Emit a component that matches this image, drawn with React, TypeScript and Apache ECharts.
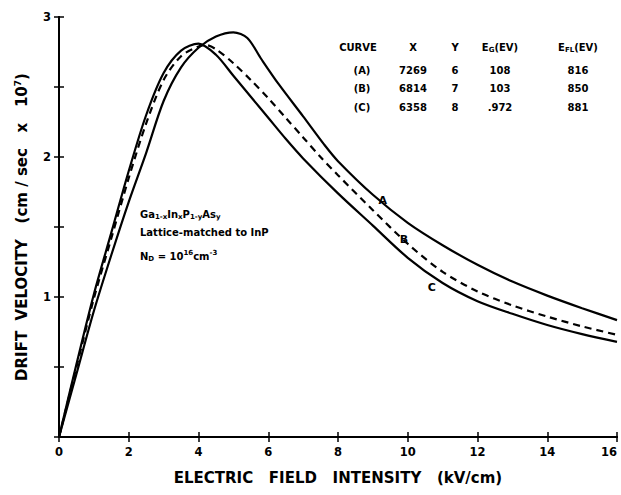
import React, { useEffect, useRef } from "react";
import * as echarts from "echarts";

// ---- data ----
const aField = [0, 0.5, 1, 1.5, 2, 2.5, 3, 3.5, 4, 4.5, 5, 5.4, 5.8, 6.3, 7, 7.6, 8, 9, 10, 11, 12, 13, 14, 15, 16];
const aVel = [0, 0.45, 0.9, 1.3, 1.68, 2.03, 2.4, 2.64, 2.78, 2.86, 2.89, 2.85, 2.7, 2.52, 2.29, 2.09, 1.97, 1.73, 1.53, 1.37, 1.23, 1.11, 1.01, 0.92, 0.835];

const bField = [0, 0.5, 1, 1.5, 2, 2.5, 3, 3.5, 4, 4.2, 4.5, 5, 5.5, 6, 6.5, 7, 7.5, 8, 9, 10, 11, 12, 13, 14, 15, 16];
const bVel = [0, 0.5, 0.99, 1.42, 1.85, 2.24, 2.55, 2.72, 2.79, 2.8, 2.77, 2.67, 2.55, 2.42, 2.28, 2.14, 2.0, 1.87, 1.62, 1.38, 1.18, 1.04, 0.94, 0.86, 0.79, 0.73];

const cField = [0, 0.5, 1, 1.5, 2, 2.5, 3, 3.5, 4, 4.5, 5, 5.5, 6, 6.5, 7, 8, 9, 10, 11, 12, 13, 14, 15, 16];
const cVel = [0, 0.52, 1.02, 1.46, 1.9, 2.3, 2.6, 2.76, 2.81, 2.73, 2.58, 2.43, 2.28, 2.13, 1.99, 1.74, 1.51, 1.28, 1.1, 0.97, 0.88, 0.8, 0.735, 0.68];

const curveLetters = ["A", "B", "C"];
const curveLabelAt = [
  [9.28, 1.69],
  [9.89, 1.41],
  [10.69, 1.07],
];

const tableHeader = ["CURVE", "X", "Y", "E{sub|G}(EV)", "E{sub|FL}(EV)"];
const tableCurve = ["(A)", "(B)", "(C)"];
const tableX = ["7269", "6814", "6358"];
const tableY = ["6", "7", "8"];
const tableEG = ["108", "103", ".972"];
const tableEFL = ["816", "850", "881"];

const xTicks = [0, 16, 2];
const yTicks = [0, 3, 0.5];

const FONT = "DejaVu Sans";

function zip(xs: number[], ys: number[]) {
  return xs.map((x, i) => [x, ys[i]]);
}

export default function App() {
  const ref = useRef<HTMLDivElement>(null);
  useEffect(() => {
    if (!ref.current) return;
    const chart = echarts.init(ref.current, undefined, { renderer: "svg" });

    const subRich = {
      sub: { fontSize: 7, fontWeight: "bold", fontFamily: FONT, fill: "#000", padding: [6, 0, 0, 0] },
      sup: { fontSize: 7, fontWeight: "bold", fontFamily: FONT, fill: "#000", padding: [0, 0, 6, 0] },
    };

    const colX = [358, 413, 455, 500, 578];
    const rowY = [47, 70, 88, 107];
    const tableTexts: any[] = [];
    const txt = (text: string, x: number, y: number, align = "center") => ({
      type: "text",
      x,
      y,
      style: {
        text,
        align,
        verticalAlign: "middle",
        fontSize: 10,
        fontWeight: "bold",
        fontFamily: FONT,
        fill: "#000",
        rich: subRich,
      },
    });
    tableHeader.forEach((h, i) => tableTexts.push(txt(h, colX[i], rowY[0])));
    for (let r = 0; r < 3; r++) {
      tableTexts.push(txt(tableCurve[r], colX[0] + 4, rowY[r + 1]));
      tableTexts.push(txt(tableX[r], colX[1], rowY[r + 1]));
      tableTexts.push(txt(tableY[r], colX[2], rowY[r + 1]));
      tableTexts.push(txt(tableEG[r], colX[3], rowY[r + 1]));
      tableTexts.push(txt(tableEFL[r], colX[4], rowY[r + 1]));
    }
    tableTexts.push(txt("Ga{sub|1-x}In{sub|x}P{sub|1-y}As{sub|y}", 140, 214, "left"));
    tableTexts.push(txt("Lattice-matched to InP", 140, 232, "left"));
    tableTexts.push(txt("N{sub|D} = 10{sup|16}cm{sup|-3}", 140, 256, "left"));

    const series = [
      { data: zip(aField, aVel), dash: "solid" },
      { data: zip(bField, bVel), dash: [7, 5] },
      { data: zip(cField, cVel), dash: "solid" },
    ].map((s, i) => ({
      type: "line",
      name: curveLetters[i],
      data: s.data,
      smooth: 0.3,
      showSymbol: false,
      symbol: "none",
      lineStyle: { color: "#000", width: 2.2, type: s.dash },
      markPoint: {
        symbol: "circle",
        symbolSize: 1,
        itemStyle: { color: "rgba(0,0,0,0)" },
        label: {
          show: true,
          position: "inside",
          formatter: curveLetters[i],
          color: "#000",
          fontSize: 11,
          fontWeight: "bold",
          fontFamily: FONT,
        },
        data: [{ coord: curveLabelAt[i] }],
      },
      z: 3,
    }));

    const axisLine = { show: true, lineStyle: { color: "#000", width: 2 } };
    const labelStyle = { color: "#000", fontSize: 11.5, fontWeight: "bold", fontFamily: FONT };
    const tick = { show: true, inside: true, length: 5, lineStyle: { color: "#000", width: 1.5 } };

    chart.setOption({
      animation: false,
      backgroundColor: "#fff",
      grid: { left: 59, right: 4, top: 17, bottom: 58, containLabel: false, outerBoundsMode: "none" },
      xAxis: [
        {
          type: "value",
          min: xTicks[0],
          max: xTicks[1],
          interval: xTicks[2],
          axisLine,
          axisTick: tick,
          axisLabel: { ...labelStyle, margin: 9, alignMaxLabel: "right" },
          splitLine: { show: false },
          name: "ELECTRIC   FIELD   INTENSITY   (kV/cm)",
          nameLocation: "middle",
          nameGap: 33,
          nameTextStyle: { color: "#000", fontSize: 15, fontWeight: "bold", fontFamily: FONT },
        },
        {
          type: "value",
          position: "top",
          min: xTicks[0],
          max: xTicks[1],
          interval: xTicks[2],
          axisLine,
          axisTick: tick,
          axisLabel: { show: false },
          splitLine: { show: false },
        },
      ],
      yAxis: [
        {
          type: "value",
          min: yTicks[0],
          max: yTicks[1],
          interval: yTicks[2],
          axisLine,
          axisTick: tick,
          axisLabel: {
            ...labelStyle,
            margin: 8,
            formatter: (v: number) => (v > 0 && Number.isInteger(v) ? String(v) : ""),
          },
          splitLine: { show: false },
          name: "DRIFT  VELOCITY   (cm / sec   x   10{sup|7})",
          nameLocation: "middle",
          nameGap: 29,
          nameTextStyle: {
            color: "#000",
            fontSize: 15,
            fontWeight: "bold",
            fontFamily: FONT,
            rich: { sup: { fontSize: 9, fontWeight: "bold", fontFamily: FONT, color: "#000", padding: [0, 0, 8, 0] } },
          },
        },
        {
          type: "value",
          position: "right",
          min: yTicks[0],
          max: yTicks[1],
          interval: yTicks[2],
          axisLine,
          axisTick: tick,
          axisLabel: { show: false },
          splitLine: { show: false },
        },
      ],
      series,
      graphic: tableTexts,
    });

    return () => chart.dispose();
  }, []);

  return <div ref={ref} style={{ width: 621, height: 495, position: "absolute", left: 0, top: 0 }} />;
}
